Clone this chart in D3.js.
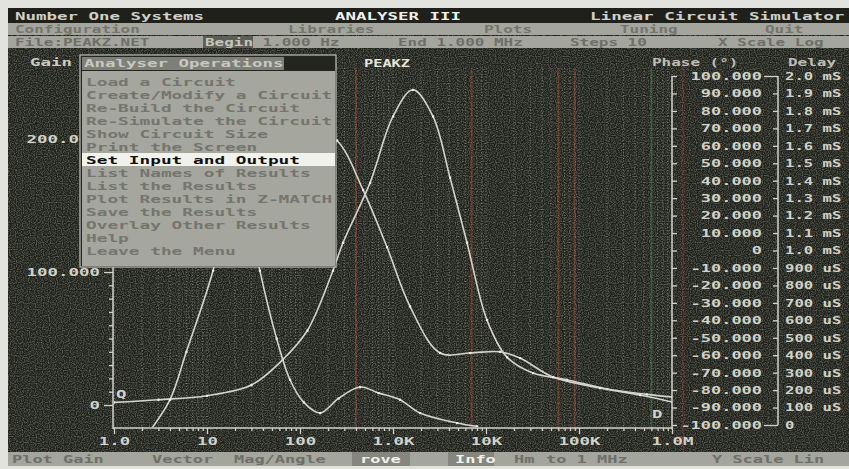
<!DOCTYPE html>
<html><head><meta charset="utf-8">
<script src="https://cdnjs.cloudflare.com/ajax/libs/d3/7.8.5/d3.min.js"></script>
<style>html,body{margin:0;padding:0;background:#e4e4e0;overflow:hidden}svg{display:block}</style>
</head><body>
<script>
// ---------------- data ----------------
const titleLeft = "Number One Systems", titleMid = "ANALYSER III", titleRight = "Linear Circuit Simulator";
const menuBar = ["Configuration", "Libraries", "Plots", "Tuning", "Quit"];
const statusBar = ["File:PEAKZ.NET", "Begin 1.000 Hz", "End 1.000 MHz", "Steps 10", "X Scale Log"];
const bottomBar = ["Plot Gain", "Vector", "Mag/Angle", "rove", "Info", "Hm", "to 1 MHz", "Y Scale Lin"];
const circuitName = "PEAKZ";
const menuTitle = "Analyser Operations";
const menuItems = ["Load a Circuit", "Create/Modify a Circuit", "Re-Build the Circuit", "Re-Simulate the Circuit",
  "Show Circuit Size", "Print the Screen", "Set Input and Output", "List Names of Results", "List the Results",
  "Plot Results in Z-MATCH", "Save the Results", "Overlay Other Results", "Help", "Leave the Menu"];
const selectedItem = 6;

const xTickValues = [1, 10, 100, 1000, 10000, 100000, 1000000];
const xTickLabels = ["1.0", "10", "100", "1.0K", "10K", "100K", "1.0M"];
const gainMajor = [0, 100, 200];
const gainMajorLabels = ["0", "100.000", "200.000"];
const phaseTicks = [-100, -90, -80, -70, -60, -50, -40, -30, -20, -10, 0, 10, 20, 30, 40, 50, 60, 70, 80, 90, 100];
const phaseLabels = ["-100.000", "-90.000", "-80.000", "-70.000", "-60.000", "-50.000", "-40.000", "-30.000", "-20.000", "-10.000", "0",
  "10.000", "20.000", "30.000", "40.000", "50.000", "60.000", "70.000", "80.000", "90.000", "100.000"];
const delayTicks = [0, 0.1, 0.2, 0.3, 0.4, 0.5, 0.6, 0.7, 0.8, 0.9, 1.0, 1.1, 1.2, 1.3, 1.4, 1.5, 1.6, 1.7, 1.8, 1.9, 2.0];
const delayLabels = ["0", "100 uS", "200 uS", "300 uS", "400 uS", "500 uS", "600 uS", "700 uS", "800 uS", "900 uS", "1.0 mS",
  "1.1 mS", "1.2 mS", "1.3 mS", "1.4 mS", "1.5 mS", "1.6 mS", "1.7 mS", "1.8 mS", "1.9 mS", "2.0 mS"];

// main gain response
const gainFreq = [1, 3, 10, 30, 65, 120, 226, 290, 566, 1000, 1640, 2690, 4100, 6250, 10230, 16800, 32000, 74000, 200000, 537000, 1000000];
const gainVals = [2, 4, 7, 15, 34, 56, 101, 122, 167, 217, 237, 217, 171, 122, 64, 36, 24, 19, 12, 8, 6];
// narrow low-frequency peak
const peakFreq = [2.4, 4, 6, 11.6, 16, 21, 27, 37, 56, 78, 110, 164, 260, 442, 700, 1190, 1950, 4880, 8000];
const peakVals = [-20, 4, 40, 101, 145, 172, 150, 101, 50, 19, 2, -6, 5, 13.5, 9, 4, -6, -13.5, -16];
// phase response
const phaseFreq = [1, 10, 100, 250, 476, 861, 1523, 3200, 6730, 14100, 23200, 52500, 168000, 453000, 1000000];
const phaseVals = [88, 85, 75, 63, 34.7, 2, -32, -58.7, -58.7, -58, -61.6, -72.5, -78.8, -82.8, -86.8];

const redGrid = [400, 7000, 60000, 90000];
const greenGrid = [600000];

// ---------------- drawing ----------------
const W = 849, H = 469, CW = 10.5, FS = 10.5;
const FONT = "'DejaVu Sans Mono', 'Liberation Mono', monospace";
const svg = d3.select("body").append("svg").attr("width", W).attr("height", H);

const defs = svg.append("defs");
const grainF = defs.append("filter").attr("id", "grain").attr("x", 0).attr("y", 0).attr("width", "100%").attr("height", "100%");
grainF.append("feTurbulence").attr("type", "fractalNoise").attr("baseFrequency", 0.85).attr("numOctaves", 1).attr("seed", 7);
grainF.append("feColorMatrix").attr("type", "matrix").attr("values", "0 0 0 0 0.72  0 0 0 0 0.74  0 0 0 0 0.66  0 0 0 1.6 -0.62");
defs.append("clipPath").attr("id", "plotclip").append("rect").attr("x", 114).attr("y", 60).attr("width", 558).attr("height", 367);

function dos(sel, cw) {
  sel.each(function () {
    const t = this.textContent;
    if (t.length) d3.select(this).attr("textLength", t.length * (cw || CW)).attr("lengthAdjust", "spacingAndGlyphs");
  });
  return sel;
}
function txt(g, s, x, y, opts) {
  opts = opts || {};
  const t = g.append("text").attr("x", x).attr("y", y).text(s)
    .attr("font-family", FONT).attr("font-size", opts.size || FS).attr("font-weight", opts.weight || "bold")
    .attr("fill", opts.fill || "#d4d5cc").attr("text-anchor", opts.anchor || "start");
  dos(t, opts.cw);
  return t;
}

// screen
svg.append("rect").attr("width", W).attr("height", H).attr("fill", "#e2e2de");
svg.append("rect").attr("x", 8).attr("y", 8).attr("width", W - 8).attr("height", 458).attr("fill", "#1d1f19");

const x = d3.scaleLog().domain([1, 1e6]).range([114, 672]);
const yGain = d3.scaleLinear().domain([0, 250]).range([405, 72.5]);
const yPhase = d3.scaleLinear().domain([-100, 100]).range([425, 76]);
const yDelay = d3.scaleLinear().domain([0, 2]).range([425, 76]);

// grid
const tinted = d => redGrid.includes(d) || greenGrid.includes(d);
const gridG = svg.append("g");
gridG.selectAll("line").data(x.ticks()).join("line")
  .attr("x1", d => x(d)).attr("x2", d => x(d)).attr("y1", 68).attr("y2", 428)
  .attr("stroke", d => redGrid.includes(d) ? "#5a2e24" : greenGrid.includes(d) ? "#2c4d30" : "#5f6156")
  .attr("stroke-width", d => tinted(d) ? 2 : 1)
  .attr("stroke-dasharray", d => tinted(d) ? null : "1,2");
svg.append("line").attr("x1", 683).attr("x2", 683).attr("y1", 60).attr("y2", 450).attr("stroke", "#3a241d").attr("stroke-width", 3);

// curves
const curvesG = svg.append("g").attr("clip-path", "url(#plotclip)");
const lineGen = (ys) => d3.line().x(d => x(d[0])).y(d => ys(d[1])).curve(d3.curveCatmullRom.alpha(0.5));
const series = [
  { pts: d3.zip(gainFreq, gainVals), s: yGain },
  { pts: d3.zip(peakFreq, peakVals), s: yGain },
  { pts: d3.zip(phaseFreq, phaseVals), s: yPhase }
];
series.forEach(sr => {
  curvesG.append("path").attr("d", lineGen(sr.s)(sr.pts)).attr("fill", "none")
    .attr("stroke", "#d2d3ca").attr("stroke-width", 1.6);
  curvesG.selectAll(null).data(sr.pts).join("rect")
    .attr("x", d => x(d[0]) - 1).attr("y", d => sr.s(d[1]) - 1).attr("width", 2.2).attr("height", 2.2).attr("fill", "#eeeee6");
});

// axes
const axisStyle = g => {
  g.select(".domain").remove();
  g.selectAll("line").attr("stroke", "#d0d1c8").attr("stroke-width", 1.3);
  g.selectAll("text").attr("font-family", FONT).attr("font-size", FS).attr("font-weight", "bold").attr("fill", "#cfd0c6");
};
// gain axis
const gMinor = d3.range(0, 251, 10);
const gAx = svg.append("g").attr("transform", "translate(113,0)")
  .call(d3.axisLeft(yGain).tickValues(gMinor).tickSize(4)
    .tickFormat(d => { const i = gainMajor.indexOf(d); return i >= 0 ? gainMajorLabels[i] : ""; }));
axisStyle(gAx);
gAx.selectAll(".tick").filter(d => gainMajor.includes(d)).select("line").attr("x2", -9);
gAx.selectAll("text").attr("x", -13);
dos(gAx.selectAll("text"));
svg.append("line").attr("x1", 113).attr("x2", 113).attr("y1", 68).attr("y2", 429).attr("stroke", "#d0d1c8").attr("stroke-width", 1.5);

// x axis
const xAx = svg.append("g").attr("transform", "translate(0,428)")
  .call(d3.axisBottom(x).tickValues(x.ticks()).tickSize(3)
    .tickFormat(d => { const i = xTickValues.indexOf(d); return i >= 0 ? xTickLabels[i] : ""; }));
axisStyle(xAx);
xAx.selectAll(".tick").filter(d => xTickValues.includes(d)).select("line").attr("y2", 6);
xAx.selectAll("text").attr("y", 10).attr("dy", "0.71em");
dos(xAx.selectAll("text"));
svg.append("line").attr("x1", 113).attr("x2", 673).attr("y1", 428).attr("y2", 428).attr("stroke", "#d0d1c8").attr("stroke-width", 1.5);

// phase axis
const pAx = svg.append("g").attr("transform", "translate(672,0)")
  .call(d3.axisRight(yPhase).tickValues(phaseTicks).tickSize(5).tickFormat((d, i) => phaseLabels[i]));
axisStyle(pAx);
pAx.selectAll("text").attr("x", 90).attr("text-anchor", "end");
dos(pAx.selectAll("text"), 10.2);
svg.append("line").attr("x1", 672).attr("x2", 672).attr("y1", 76).attr("y2", 429).attr("stroke", "#d0d1c8").attr("stroke-width", 1.5);

// delay axis
const dAx = svg.append("g").attr("transform", "translate(778,0)")
  .call(d3.axisRight(yDelay).tickValues(delayTicks).tickSize(5).tickFormat((d, i) => delayLabels[i]));
axisStyle(dAx);
dAx.selectAll("line").attr("x2", -5);
dAx.selectAll(".tick").filter(d => d === 0 || d === 2).select("line").attr("x2", -14);
dAx.selectAll("text").attr("x", 7);
dos(dAx.selectAll("text"), 9.4);
svg.append("line").attr("x1", 778).attr("x2", 778).attr("y1", 76).attr("y2", 425).attr("stroke", "#d0d1c8").attr("stroke-width", 1.5);

// plot labels
const labG = svg.append("g");
txt(labG, "Gain", 30, 66, { fill: "#c9cac0" });
txt(labG, circuitName, 364, 67, { fill: "#e6e6de", cw: 9.2 });
txt(labG, "Phase (°)", 652, 66, { fill: "#b9bab0", cw: 9.6 });
txt(labG, "Delay", 788, 66, { fill: "#b9bab0", cw: 9.6 });
txt(labG, "Q", 116, 398, { fill: "#d0d1c8" });
txt(labG, "D", 652, 418, { fill: "#d0d1c8" });

// grain overlay
svg.append("rect").attr("x", 8).attr("y", 8).attr("width", W - 8).attr("height", 458).attr("filter", "url(#grain)").attr("opacity", 0.55);

// menu popup
const menuG = svg.append("g");
menuG.append("rect").attr("x", 80).attr("y", 55).attr("width", 256).attr("height", 212).attr("fill", "#24251f").attr("stroke", "#bfc0b8").attr("stroke-width", 1.2);
menuG.append("rect").attr("x", 82).attr("y", 57).attr("width", 202).attr("height", 13).attr("fill", "#7e7f78");
txt(menuG, menuTitle, 84, 67, { fill: "#c7c8bf" });
menuG.append("rect").attr("x", 82).attr("y", 71).attr("width", 253).attr("height", 195).attr("fill", "#a5a69e");
menuItems.forEach((m, i) => {
  const yy = 82 + i * 13;
  if (i === selectedItem) {
    menuG.append("rect").attr("x", 82).attr("y", yy - 7).attr("width", 253).attr("height", 13).attr("fill", "#f2f2ec");
    txt(menuG, m, 86, yy + 4, { fill: "#111", cw: 10.7 });
  } else {
    txt(menuG, m, 86, yy + 4, { fill: "#74756d", cw: 10.7 });
  }
});

// top rows
const topG = svg.append("g");
topG.append("rect").attr("x", 8).attr("y", 8).attr("width", W - 8).attr("height", 15).attr("fill", "#1f201b");
txt(topG, titleLeft, 15, 20, { fill: "#cfd0c7" });
txt(topG, titleMid, 335, 20, { fill: "#f0f0ea" });
txt(topG, titleRight, 590, 20, { fill: "#cfd0c7", cw: 10.6 });
topG.append("rect").attr("x", 8).attr("y", 23).attr("width", W - 8).attr("height", 12).attr("fill", "#a4a59d");
const mbX = [15, 288, 484, 620, 765];
menuBar.forEach((s, i) => txt(topG, s, mbX[i], 33, { fill: "#74756d", cw: 9.6 }));
topG.append("rect").attr("x", 8).attr("y", 36).attr("width", W - 8).attr("height", 12).attr("fill", "#a4a59d");
topG.append("rect").attr("x", 203).attr("y", 36).attr("width", 50).attr("height", 12).attr("fill", "#5d5e57");
const sbX = [15, 205, 398, 570, 718];
statusBar.forEach((s, i) => {
  const t = topG.append("text").attr("x", sbX[i]).attr("y", 46)
    .attr("font-family", FONT).attr("font-size", FS).attr("font-weight", "bold").attr("fill", "#6e6f68");
  if (i === 1) {
    const sp = s.indexOf(" ");
    t.append("tspan").attr("fill", "#c4c5bc").text(s.slice(0, sp));
    t.append("tspan").text(s.slice(sp));
  } else t.text(s);
  t.attr("textLength", s.length * 9.6).attr("lengthAdjust", "spacingAndGlyphs");
});

// bottom row
const botG = svg.append("g");
botG.append("rect").attr("x", 8).attr("y", 452).attr("width", W - 8).attr("height", 14).attr("fill", "#a4a59d");
const bbX = [12, 152, 234, 360, 455, 514, 546, 712];
const bbFill = ["#6e6f68", "#6e6f68", "#6e6f68", "#f2f2ea", "#f2f2ea", "#6e6f68", "#6e6f68", "#6e6f68"];
botG.append("rect").attr("x", 352).attr("y", 452).attr("width", 58).attr("height", 14).attr("fill", "#85867e");
botG.append("rect").attr("x", 448).attr("y", 452).attr("width", 46).attr("height", 14).attr("fill", "#85867e");
bottomBar.forEach((s, i) => txt(botG, s, bbX[i], 463, { fill: bbFill[i], cw: 10.2 }));
</script>
</body></html>
